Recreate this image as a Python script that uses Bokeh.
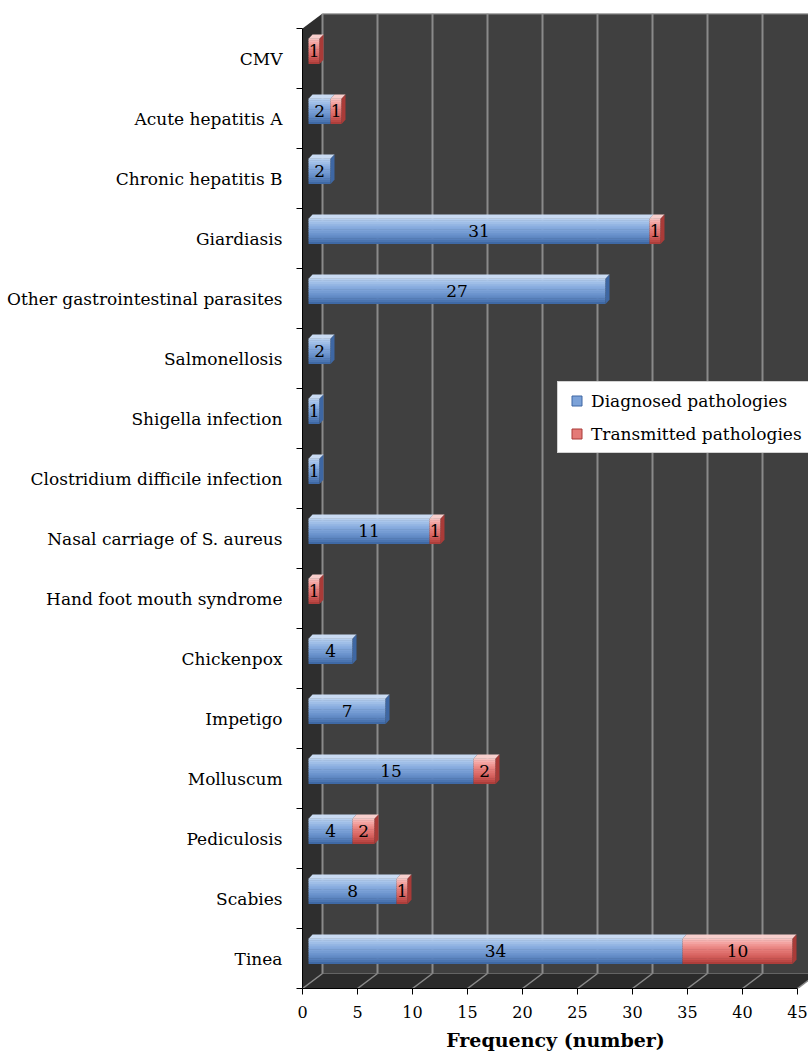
from bokeh.plotting import figure
from bokeh.models import (ColumnDataSource, FixedTicker, Legend, LegendItem, Range1d)
from bokeh.core.properties import value
from bokeh.embed import file_html
from bokeh.resources import INLINE

# ---------------- data (bottom to top) ----------------
categories = ["Tinea", "Scabies", "Pediculosis", "Molluscum", "Impetigo", "Chickenpox",
              "Hand foot mouth syndrome", "Nasal carriage of S. aureus",
              "Clostridium difficile infection", "Shigella infection", "Salmonellosis",
              "Other gastrointestinal parasites", "Giardiasis", "Chronic hepatitis B",
              "Acute hepatitis A", "CMV"]
diagnosed = [34, 8, 4, 15, 7, 4, 0, 11, 1, 1, 2, 27, 31, 2, 2, 0]
transmitted = [10, 1, 2, 2, 0, 0, 1, 1, 0, 0, 0, 0, 1, 0, 1, 1]
x_ticks = [0, 5, 10, 15, 20, 25, 30, 35, 40, 45]
series_names = ["Diagnosed pathologies", "Transmitted pathologies"]

FONT = "DejaVu Serif"

# ---------------- 3-D geometry (in data units) ----------------
DX, DY = 20 / 11, 0.25         # depth of the chart box
SX, SY = 0.55, 0.12            # bar shift (half depth)
H = 0.42                       # front-face height of bar
TX, TY = 0.36, 0.07            # bar top/side face depth
N = len(categories)
XMAX = x_ticks[-1]

p = figure(width=808, height=1053, output_backend="svg", toolbar_location=None,
           x_range=Range1d(0, 46), y_range=Range1d(-0.5, N - 0.5 + DY),
           min_border_left=302, min_border_right=0, min_border_top=13,
           min_border_bottom=65)
p.outline_line_color = None
p.background_fill_color = "white"
p.xgrid.visible = False
p.ygrid.visible = False

# walls
p.quad(left=[DX], right=[46.5], bottom=[-0.5 + DY], top=[N - 0.5 + DY],
       fill_color="#404040", line_color=None)
p.patch([0, DX, DX, 0], [-0.5, -0.5 + DY, N - 0.5 + DY, N - 0.5],
        fill_color="#2e2e2e", line_color=None)
p.patch([0, XMAX, XMAX + DX, DX], [-0.5, -0.5, -0.5 + DY, -0.5 + DY],
        fill_color="#2b2b2b", line_color=None)
# top edge of back wall
p.segment(x0=[DX], y0=[N - 0.5 + DY], x1=[46.5], y1=[N - 0.5 + DY],
          line_color="#8c8c8c", line_width=2)
# back-wall gridlines and floor diagonals
p.segment(x0=[t + DX for t in x_ticks], y0=[-0.5 + DY] * len(x_ticks),
          x1=[t + DX for t in x_ticks], y1=[N - 0.5 + DY] * len(x_ticks),
          line_color="#8a8a8a", line_width=2)
p.segment(x0=x_ticks, y0=[-0.5] * len(x_ticks),
          x1=[t + DX for t in x_ticks], y1=[-0.5 + DY] * len(x_ticks),
          line_color="#8a8a8a", line_width=1.5)

# ---------------- bars ----------------
blue_grad = ["#b6cfef", "#aac6eb", "#9fbee7", "#95b6e3", "#8baee0", "#83a8dc", "#7ca2d8",
             "#759cd3", "#6d95ce", "#668ec9", "#5e87c2", "#567fbb", "#4b75b1", "#3f69a5"]
red_grad = ["#f8c0be", "#f6b1af", "#f3a3a1", "#f09794", "#ec8c89", "#e8827f", "#e47a77",
            "#e0726f", "#db6a67", "#d6625f", "#cf5a57", "#c8524f", "#bc4845", "#ad3e3b"]
blue_top, blue_side = "#c9dbf3", "#3e67a3"
red_top, red_side = "#f8cfcd", "#a93b38"

ys = [i + SY for i in range(N)]
d_left = [SX] * N
d_right = [SX + d for d in diagnosed]
t_left = d_right
t_right = [SX + d + t for d, t in zip(diagnosed, transmitted)]

NS = len(blue_grad)
for s in range(NS):
    off = H / 2 - (s + 0.5) * H / NS
    src_b = ColumnDataSource(dict(y=[y + off for y, d in zip(ys, diagnosed) if d > 0],
                                  l=[a for a, d in zip(d_left, diagnosed) if d > 0],
                                  r=[b for b, d in zip(d_right, diagnosed) if d > 0]))
    p.hbar(y="y", left="l", right="r", height=H / NS + 0.006, source=src_b,
           fill_color=blue_grad[s], line_color=None)
    src_r = ColumnDataSource(dict(y=[y + off for y, t in zip(ys, transmitted) if t > 0],
                                  l=[a for a, t in zip(t_left, transmitted) if t > 0],
                                  r=[b for b, t in zip(t_right, transmitted) if t > 0]))
    p.hbar(y="y", left="l", right="r", height=H / NS + 0.006, source=src_r,
           fill_color=red_grad[s], line_color=None)

# top faces
def top_faces(lefts, rights, vals):
    xs, yy = [], []
    for l, r, y, v in zip(lefts, rights, ys, vals):
        if v > 0:
            top = y + H / 2
            xs.append([l, r, r + TX, l + TX])
            yy.append([top, top, top + TY, top + TY])
    return xs, yy

bx, by = top_faces(d_left, d_right, diagnosed)
p.patches(bx, by, fill_color=blue_top, line_color=None)
rx, ry = top_faces(t_left, t_right, transmitted)
p.patches(rx, ry, fill_color=red_top, line_color=None)

# side faces (right end of each bar)
sx_b, sy_b, sx_r, sy_r = [], [], [], []
for y, r, t in zip(ys, t_right, transmitted):
    xs_ = [r, r + TX, r + TX, r]
    yy_ = [y + H / 2, y + H / 2 + TY, y - H / 2 + TY, y - H / 2]
    if t > 0:
        sx_r.append(xs_); sy_r.append(yy_)
    else:
        sx_b.append(xs_); sy_b.append(yy_)
p.patches(sx_b, sy_b, fill_color=blue_side, line_color=None)
p.patches(sx_r, sy_r, fill_color=red_side, line_color=None)

# value labels
lab_x, lab_y, lab_t = [], [], []
for y, l, r, v in zip(ys, d_left, d_right, diagnosed):
    if v > 0:
        lab_x.append((l + r) / 2); lab_y.append(y); lab_t.append(str(v))
for y, l, r, v in zip(ys, t_left, t_right, transmitted):
    if v > 0:
        lab_x.append((l + r) / 2); lab_y.append(y); lab_t.append(str(v))
p.text(x=lab_x, y=lab_y, text=lab_t, text_align="center", text_baseline="middle",
       text_font=value(FONT), text_font_size="17px", text_color="black")

# ---------------- axes ----------------
xa = p.xaxis[0]
xa.ticker = FixedTicker(ticks=x_ticks)
xa.bounds = (0, XMAX)
xa.axis_line_color = "black"
xa.major_tick_line_color = "black"
xa.major_tick_out = 6
xa.major_tick_in = 0
xa.minor_tick_line_color = None
xa.major_label_text_font = FONT
xa.major_label_text_font_size = "16px"
xa.major_label_text_color = "black"
xa.major_label_standoff = 11
xa.axis_label = "Frequency (number)"
xa.axis_label_text_font = FONT
xa.axis_label_text_font_style = "bold"
xa.axis_label_text_font_size = "19px"
xa.axis_label_text_color = "black"
xa.axis_label_standoff = 8

ya = p.yaxis[0]
ya.ticker = FixedTicker(ticks=list(range(N)), minor_ticks=[i - 0.5 for i in range(N + 1)])
ya.bounds = (-0.5, N - 0.5)
ya.major_label_overrides = {i: c for i, c in enumerate(categories)}
ya.axis_line_color = "black"
ya.major_tick_line_color = None
ya.major_tick_out = 0
ya.major_tick_in = 0
ya.minor_tick_line_color = "black"
ya.minor_tick_out = 6
ya.minor_tick_in = 0
ya.major_label_text_font = FONT
ya.major_label_text_font_size = "17px"
ya.major_label_text_color = "black"
ya.major_label_standoff = 14

# ---------------- legend ----------------
leg_b = p.scatter(x=[-100], y=[-100], marker="square", size=10,
                  fill_color=blue_grad[6], line_color=blue_side)
leg_r = p.scatter(x=[-100], y=[-100], marker="square", size=10,
                  fill_color=red_grad[6], line_color=red_side)
legend = Legend(items=[LegendItem(label=series_names[0], renderers=[leg_b]),
                       LegendItem(label=series_names[1], renderers=[leg_r])],
                location=(255, 535), orientation="vertical",
                label_text_font=FONT, label_text_font_size="17px", label_text_color="black",
                glyph_width=25, glyph_height=25, label_height=25, spacing=8, padding=6,
                label_standoff=2, margin=0,
                background_fill_color="white", background_fill_alpha=1,
                border_line_color="#a6a6a6", border_line_width=1)
p.add_layout(legend, "center")

open("out.html", "w").write(file_html(p, INLINE))
